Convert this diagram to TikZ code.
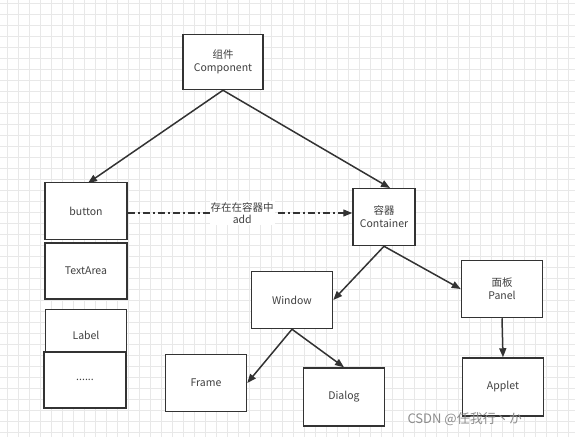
\documentclass[tikz,border=0pt]{standalone}
\usepackage{fontspec}
\setmainfont{Noto Sans CJK SC}
\usetikzlibrary{arrows.meta}

\begin{document}
\begin{tikzpicture}[x=1pt,y=-1pt,
  box/.style={draw=black!80,line width=1.5pt,fill=white,minimum width=81pt,minimum height=57pt,
    align=center,font=\fontsize{10.5}{13}\selectfont,text=black!75},
  arr/.style={draw=black!80,line width=1.5pt,-{Triangle[length=9pt,width=7pt]}}]
  \useasboundingbox (0,0) rectangle (575,437);
  % background grid
  \foreach \i in {0,...,52} \draw[black!9,line width=0.6pt] (7+11*\i,0) -- (7+11*\i,437);
  \foreach \j in {0,...,39} \draw[black!9,line width=0.6pt] (0,3+11*\j) -- (575,3+11*\j);

  \node[box,minimum width=80pt,minimum height=55pt] (comp) at (223,62) {组件\\Component};
  \node[box,minimum width=82pt] (button) at (86,211) {button};
  \node[box,minimum width=82pt,minimum height=56pt] (textarea) at (86,271) {TextArea};
  \node[box,minimum width=81pt,minimum height=57pt,yshift=-3pt] (label) at (86,335) {};
  \node at (86,335) [font=\fontsize{10.5}{13}\selectfont,text=black!75] {Label};
  \node[box,minimum width=82pt,minimum height=56pt] (dots) at (85,380) {......};
  \node[box,minimum width=62pt] (cont) at (384,217) {容器\\Container};
  \node[box] (window) at (292,300) {Window};
  \node[box] (panel) at (502,289) {面板\\Panel};
  \node[box] (frame) at (206,383) {Frame};
  \node[box,minimum height=58pt] (dialog) at (344,397) {Dialog};
  \node[box,minimum height=58pt] (applet) at (503,387) {Applet};

  \draw[arr] (comp.south) -- (88,183);
  \draw[arr] (comp.south) -- (390,188);
  \draw[arr,dash pattern=on 7pt off 3pt on 2pt off 3pt,line width=1.3pt] (button.east |- 0,213) -- (cont.west |- 0,213)
    node[pos=0.51,fill=white,inner sep=1pt,align=center,font=\fontsize{10.5}{12}\selectfont,text=black!75] {存在在容器中\\add};
  \draw[arr] (cont.south) -- (window.east);
  \draw[arr] (cont.south) -- (panel.west);
  \draw[arr] (window.south) -- (frame.east);
  \draw[arr] (window.south) -- (dialog.north);
  \draw[arr] (panel.south) -- (applet.north);

  \node[text=black!45,font=\fontsize{13}{14}\selectfont,anchor=west] (mark) at (404,419) {CSDN @任我行丶か};
\end{tikzpicture}
\end{document}
